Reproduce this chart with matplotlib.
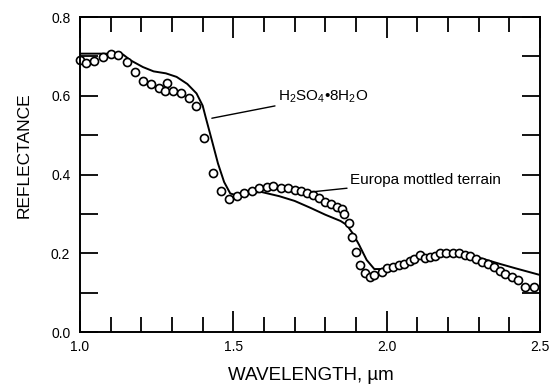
import matplotlib
matplotlib.use("Agg")
import matplotlib.pyplot as plt
from matplotlib.ticker import MultipleLocator, FormatStrFormatter

plt.rcParams["font.family"] = ["Liberation Sans", "DejaVu Sans"]
plt.rcParams["mathtext.fontset"] = "custom"
plt.rcParams["mathtext.rm"] = "Liberation Sans"
plt.rcParams["mathtext.it"] = "Liberation Sans:italic"

# laboratory spectrum (solid line)
lab_wl = [1.00, 1.05, 1.10, 1.14, 1.165, 1.205, 1.24, 1.28, 1.315, 1.35,
          1.38, 1.40, 1.41, 1.43, 1.45, 1.47, 1.49, 1.51, 1.55, 1.59, 1.65,
          1.70, 1.75, 1.80, 1.85, 1.87, 1.89, 1.91, 1.935, 1.96, 1.98, 2.00,
          2.05, 2.10, 2.15, 2.21, 2.26, 2.31, 2.37, 2.42, 2.50]
lab_refl = [0.707, 0.707, 0.707, 0.705, 0.690, 0.673, 0.662, 0.657, 0.648,
            0.630, 0.606, 0.575, 0.545, 0.487, 0.428, 0.381, 0.352, 0.347,
            0.352, 0.356, 0.345, 0.333, 0.316, 0.298, 0.282, 0.272, 0.250,
            0.222, 0.183, 0.160, 0.160, 0.163, 0.174, 0.191, 0.198, 0.204,
            0.196, 0.187, 0.173, 0.162, 0.145]

# Europa mottled terrain (open circles)
eur_wl = [1.000, 1.020, 1.047, 1.076, 1.100, 1.125, 1.152, 1.180, 1.206,
          1.232, 1.258, 1.283, 1.277, 1.302, 1.330, 1.356, 1.377, 1.405,
          1.433, 1.460, 1.487, 1.513, 1.536, 1.560, 1.584, 1.609, 1.630,
          1.655, 1.680, 1.700, 1.720, 1.740, 1.760, 1.780, 1.800, 1.820,
          1.837, 1.853, 1.860, 1.877, 1.888, 1.900, 1.913, 1.930, 1.945,
          1.960, 1.984, 2.000, 2.020, 2.040, 2.057, 2.076, 2.090, 2.110,
          2.125, 2.140, 2.158, 2.175, 2.195, 2.217, 2.237, 2.255, 2.273,
          2.293, 2.310, 2.330, 2.350, 2.370, 2.386, 2.410, 2.430, 2.450,
          2.480]
eur_refl = [0.690, 0.684, 0.689, 0.699, 0.706, 0.704, 0.686, 0.661, 0.638,
            0.629, 0.621, 0.633, 0.612, 0.612, 0.608, 0.594, 0.574, 0.494,
            0.404, 0.358, 0.338, 0.346, 0.352, 0.358, 0.365, 0.369, 0.370,
            0.366, 0.365, 0.362, 0.358, 0.354, 0.348, 0.340, 0.330, 0.325,
            0.318, 0.312, 0.300, 0.276, 0.242, 0.204, 0.170, 0.149, 0.140,
            0.145, 0.153, 0.162, 0.166, 0.169, 0.174, 0.180, 0.185, 0.195,
            0.187, 0.191, 0.193, 0.201, 0.200, 0.201, 0.200, 0.195, 0.193,
            0.185, 0.179, 0.173, 0.166, 0.155, 0.147, 0.140, 0.132, 0.115,
            0.115]

fig = plt.figure(figsize=(5.52, 3.87), dpi=100)
ax = fig.add_axes([0.145, 0.142, 0.833, 0.814])

ax.plot(lab_wl, lab_refl, color="black", lw=1.4)
ax.plot(eur_wl, eur_refl, "o", ms=5.8, mfc="white", mec="black", mew=1.2,
        clip_on=False)

ax.set_xlim(1.0, 2.5)
ax.set_ylim(0.0, 0.8)
ax.xaxis.set_major_locator(MultipleLocator(0.5))
ax.xaxis.set_minor_locator(MultipleLocator(0.1))
ax.yaxis.set_major_locator(MultipleLocator(0.2))
ax.yaxis.set_minor_locator(MultipleLocator(0.1))
ax.xaxis.set_major_formatter(FormatStrFormatter("%.1f"))
ax.yaxis.set_major_formatter(FormatStrFormatter("%.1f"))

ax.tick_params(which="both", direction="in", top=True, right=True,
               width=1.3, labelsize=10)
ax.tick_params(axis="x", which="major", length=15, pad=6)
ax.tick_params(axis="x", which="minor", length=10.5)
ax.tick_params(axis="y", which="both", length=13, pad=7)
for s in ax.spines.values():
    s.set_linewidth(1.4)

ax.set_xlabel("WAVELENGTH, µm", fontsize=13.5)
ax.set_ylabel("REFLECTANCE", fontsize=12.5)
ax.xaxis.set_label_coords(0.502, -0.112)
ax.yaxis.set_label_coords(-0.106, 0.562)

ax.annotate(r"H$_2$SO$_4$•8H$_2$O", xy=(1.43, 0.543), xytext=(1.645, 0.598),
            fontsize=11, va="center",
            arrowprops=dict(arrowstyle="-", color="black", lw=1.0,
                            shrinkA=0, shrinkB=0))
ax.annotate("Europa mottled terrain", xy=(1.757, 0.356), xytext=(1.88, 0.386),
            fontsize=11, va="center",
            arrowprops=dict(arrowstyle="-", color="black", lw=1.0,
                            shrinkA=0, shrinkB=0))

fig.savefig("out.png", dpi=100)
